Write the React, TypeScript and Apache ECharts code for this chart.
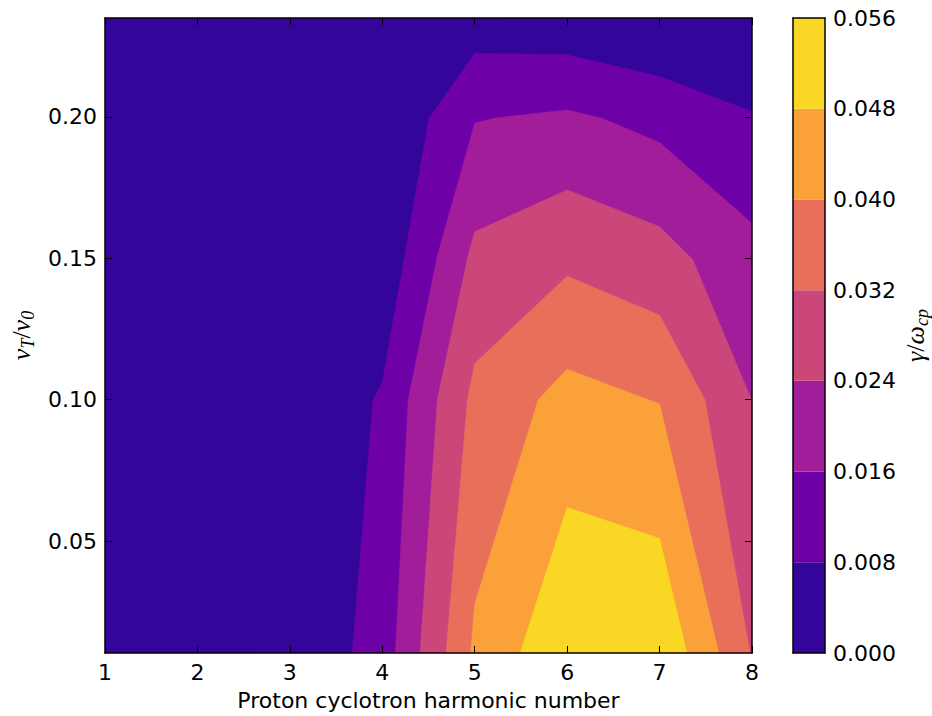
import React, { useEffect, useRef } from "react";
import * as echarts from "echarts";

// ---- axes ----
const X_MIN = 1;
const X_MAX = 8;
const Y_MIN = 0.0104;
const Y_MAX = 0.235;
const Y_TICKS = [0.05, 0.1, 0.15, 0.2];

// ---- contour levels (gamma / omega_cp) and plasma colours ----
const LEVELS = [0, 0.008, 0.016, 0.024, 0.032, 0.04, 0.048, 0.056];
const LEVEL_COLORS = ["#34059a", "#6e00a8", "#a21d9a", "#cb4779", "#e8705b", "#faa13a", "#fbd725"];

// ---- contour boundaries: [harmonic number, vT/v0] ----
const contour008 = [[3.675, 0.0104], [3.9, 0.1], [4.0, 0.106], [4.505, 0.1995], [5.0, 0.2225], [6.0, 0.222], [7.0, 0.2143], [8.0, 0.2019]];
const contour016 = [[4.142, 0.0104], [4.281, 0.1], [4.594, 0.1506], [5.0, 0.1978], [5.217, 0.1996], [6.0, 0.2025], [6.376, 0.1995], [7.0, 0.191], [8.0, 0.1624]];
const contour024 = [[4.409, 0.0104], [4.596, 0.1], [4.922, 0.15], [5.0, 0.1594], [6.0, 0.1742], [7.0, 0.1612], [7.36, 0.1495], [8.0, 0.0995]];
const contour032 = [[4.69, 0.0104], [4.922, 0.1], [5.0, 0.1128], [6.0, 0.1437], [7.0, 0.1299], [7.49, 0.1], [7.979, 0.0104]];
const contour040 = [[4.957, 0.0104], [5.0, 0.0277], [5.687, 0.1], [6.0, 0.1108], [7.0, 0.0985], [7.64, 0.0104]];
const contour048 = [[5.492, 0.0104], [6.0, 0.0619], [7.0, 0.0509], [7.295, 0.0104]];

const CONTOURS = [contour008, contour016, contour024, contour032, contour040, contour048];

const TICK_FONT = { fontFamily: "DejaVu Sans", fontSize: 22, color: "#000" };
const SPINE = { show: true, onZero: false, lineStyle: { color: "#000", width: 1.5 } };

function closeRegion(pts: number[][]) {
  const out = pts.slice();
  const last = out[out.length - 1];
  if (last[1] > Y_MIN + 1e-9) out.push([X_MAX, Y_MIN]);
  return out;
}

export default function App() {
  const ref = useRef<HTMLDivElement>(null);
  useEffect(() => {
    if (!ref.current) return;
    const chart = echarts.init(ref.current, undefined, { renderer: "svg" });
    const mathRich = {
      i: { fontFamily: "Liberation Serif", fontStyle: "italic", fontSize: 26, color: "#000" },
      n: { fontFamily: "Liberation Serif", fontSize: 26, color: "#000" },
      s: { fontFamily: "Liberation Serif", fontStyle: "italic", fontSize: 18, color: "#000", padding: [14, 0, 0, 0] },
    };
    const option: any = {
      animation: false,
      backgroundColor: "#ffffff",
      grid: [
        { left: 97, top: 18, width: 655, height: 635, show: true, backgroundColor: LEVEL_COLORS[0], borderWidth: 0 },
        { left: 793, top: 18, width: 32, height: 635, show: false },
      ],
      xAxis: [
        {
          gridIndex: 0, type: "value", min: X_MIN, max: X_MAX, interval: 1, position: "bottom", z: 10,
          axisLine: SPINE,
          axisTick: { inside: true, length: 7, lineStyle: { color: "#000", width: 1 } },
          axisLabel: { ...TICK_FONT, margin: 8 },
          splitLine: { show: false },
          name: "Proton cyclotron harmonic number",
          nameLocation: "middle", nameGap: 36,
          nameTextStyle: { fontFamily: "DejaVu Sans", fontSize: 22, color: "#000" },
        },
        {
          gridIndex: 0, type: "value", min: X_MIN, max: X_MAX, interval: 1, position: "top", z: 10,
          axisLine: SPINE,
          axisTick: { inside: true, length: 7, lineStyle: { color: "#000", width: 1 } },
          axisLabel: { show: false },
          splitLine: { show: false },
        },
        { gridIndex: 1, type: "category", data: ["cb"], position: "bottom", z: 10, axisLine: SPINE, axisTick: { show: false }, axisLabel: { show: false } },
        { gridIndex: 1, type: "category", data: ["cb"], position: "top", z: 10, axisLine: SPINE, axisTick: { show: false }, axisLabel: { show: false } },
      ],
      yAxis: [
        {
          gridIndex: 0, type: "value", min: Y_MIN, max: Y_MAX, position: "left", z: 10,
          axisLine: SPINE,
          axisTick: { inside: true, length: 7, customValues: Y_TICKS, lineStyle: { color: "#000", width: 1 } },
          axisLabel: { ...TICK_FONT, margin: 8, customValues: Y_TICKS, formatter: (v: number) => v.toFixed(2) },
          splitLine: { show: false },
          name: "{i|v}{s|T}{n|/}{i|v}{s|0}",
          nameLocation: "middle", nameGap: 68, nameRotate: 90,
          nameTextStyle: { rich: mathRich },
        },
        {
          gridIndex: 0, type: "value", min: Y_MIN, max: Y_MAX, position: "right", z: 10,
          axisLine: SPINE,
          axisTick: { inside: true, length: 7, customValues: Y_TICKS, lineStyle: { color: "#000", width: 1 } },
          axisLabel: { show: false, customValues: Y_TICKS },
          splitLine: { show: false },
        },
        {
          gridIndex: 1, type: "value", min: LEVELS[0], max: LEVELS[LEVELS.length - 1], interval: 0.008, position: "right", z: 10,
          axisLine: SPINE,
          axisTick: { inside: true, length: 5, lineStyle: { color: "#000", width: 1 } },
          axisLabel: { ...TICK_FONT, margin: 8, formatter: (v: number) => v.toFixed(3) },
          splitLine: { show: false },
          name: "{i|γ}{n|/}{i|ω}{s|cp}",
          nameLocation: "middle", nameGap: 74, nameRotate: 90,
          nameTextStyle: { rich: mathRich },
        },
        {
          gridIndex: 1, type: "value", min: LEVELS[0], max: LEVELS[LEVELS.length - 1], position: "left", z: 10,
          axisLine: SPINE, axisTick: { show: false }, axisLabel: { show: false }, splitLine: { show: false },
        },
      ],
      series: [
        {
          type: "custom",
          xAxisIndex: 0,
          yAxisIndex: 0,
          clip: true,
          z: 2,
          data: CONTOURS.map((c, i) => [c[0][0], c[0][1], i]),
          renderItem: (params: any, api: any) => {
            const idx = params.dataIndex;
            const pts = closeRegion(CONTOURS[idx]).map((p) => api.coord(p));
            const col = LEVEL_COLORS[idx + 1];
            return {
              type: "polygon",
              shape: { points: pts },
              style: { fill: col, stroke: col, lineWidth: 0.6 },
            };
          },
        },
        ...LEVEL_COLORS.map((col, i) => ({
          type: "bar",
          xAxisIndex: 2,
          yAxisIndex: 2,
          stack: "colorbar",
          barWidth: "100%",
          z: 2,
          data: [LEVELS[i + 1] - LEVELS[i]],
          itemStyle: { color: col },
        })),
      ],
    };
    chart.setOption(option);
    return () => chart.dispose();
  }, []);
  return <div ref={ref} style={{ position: "fixed", left: 0, top: 0, width: 932, height: 716 }} />;
}
